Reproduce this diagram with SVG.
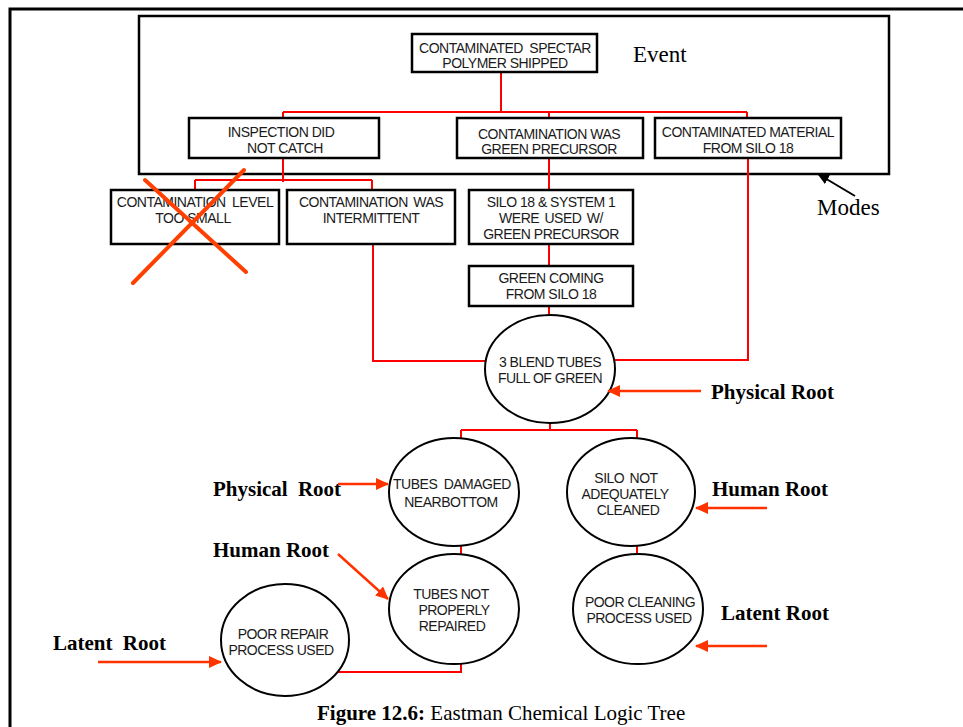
<svg xmlns="http://www.w3.org/2000/svg" width="963" height="727" viewBox="0 0 963 727">
<style>
.box{fill:#fff;stroke:#000;stroke-width:2.5}
.ell{fill:#fff;stroke:#000;stroke-width:2}
.t{font-family:"Liberation Sans",Arial,sans-serif;font-size:14px;letter-spacing:-0.5px;text-anchor:middle;fill:#1a1a1a}
.root{font-family:"Liberation Serif","Times New Roman",serif;font-weight:bold;font-size:21px;fill:#000}
.lbl{font-family:"Liberation Serif","Times New Roman",serif;font-size:23px;fill:#000}
.conn{fill:none;stroke:#ff0000;stroke-width:2}
.rarr{fill:none;stroke:#ff3300;stroke-width:2.5;marker-end:url(#ah)}
</style>
<defs>
<marker id="ah" markerUnits="userSpaceOnUse" markerWidth="13" markerHeight="12" refX="12" refY="6" orient="auto"><path d="M0,0 L13,6 L0,12 z" fill="#ff3300"/></marker>
<marker id="bh" markerUnits="userSpaceOnUse" markerWidth="12" markerHeight="10" refX="11" refY="5" orient="auto"><path d="M0,0 L12,5 L0,10 z" fill="#000"/></marker>
</defs>
<rect width="963" height="727" fill="#fff"/>
<path d="M10,727 V9 H963" fill="none" stroke="#000" stroke-width="3"/>
<rect x="139" y="16" width="750" height="158" fill="none" stroke="#000" stroke-width="2.5"/>
<text class="lbl" x="633" y="62">Event</text>
<text class="lbl" x="817" y="215">Modes</text>
<path d="M855,196 L818,174" stroke="#000" stroke-width="2" marker-end="url(#bh)"/>

<g id="connectors">
<path class="conn" d="M501,72 V112 M283,112 H747 M283,112 V118 M549,112 V118 M747,112 V118"/>
<path class="conn" d="M283,158 V182 M195,180 H372 M195,180 V190 M372,180 V190"/>
<path class="conn" d="M549,158 V190 M549,244 V266 M549,306 V316"/>
<path class="conn" d="M373,244 V361 H485"/>
<path class="conn" d="M748,158 V360 H614"/>
<path class="conn" d="M550,423 V430 M461,430 H637 M461,430 V438 M637,430 V438"/>
<path class="conn" d="M461,546 V554 M637,546 V554"/>
<path class="conn" d="M461,664 V672 H338"/>
</g>

<g id="n-shipped"><rect class="box" x="412" y="34" width="185" height="38"/>
<text class="t" x="505" y="52.5" word-spacing="3">CONTAMINATED SPECTAR</text><text class="t" x="505" y="68">POLYMER SHIPPED</text></g>
<g id="n-inspection"><rect class="box" x="189" y="118" width="190" height="40"/>
<text class="t" x="281" y="136.5">INSPECTION DID</text><text class="t" x="285" y="152.5">NOT CATCH</text></g>
<g id="n-green"><rect class="box" x="457" y="118" width="186" height="40"/>
<text class="t" x="549" y="139" font-size="13.5" letter-spacing="-0.3">CONTAMINATION WAS</text><text class="t" x="549" y="153.5" font-size="13.5" letter-spacing="-0.3">GREEN PRECURSOR</text></g>
<g id="n-silo"><rect class="box" x="655" y="118" width="186" height="40"/>
<text class="t" x="748" y="136.5">CONTAMINATED MATERIAL</text><text class="t" x="748" y="152.5">FROM SILO 18</text></g>

<g id="n-level"><rect class="box" x="111" y="190" width="168" height="54"/>
<text class="t" x="195" y="206.5" word-spacing="3">CONTAMINATION LEVEL</text><text class="t" x="193" y="222.5">TOO SMALL</text></g>
<g id="n-intermittent"><rect class="box" x="287" y="190" width="168" height="54"/>
<text class="t" x="371" y="206.5" word-spacing="2">CONTAMINATION WAS</text><text class="t" x="371" y="222.5">INTERMITTENT</text></g>
<g id="n-system"><rect class="box" x="469" y="190" width="164" height="54"/>
<text class="t" x="551" y="206.5">SILO 18 &amp; SYSTEM 1</text><text class="t" x="551" y="222.5" word-spacing="2">WERE USED W/</text><text class="t" x="551" y="238.5">GREEN PRECURSOR</text></g>
<g id="n-coming"><rect class="box" x="469" y="266" width="164" height="40"/>
<text class="t" x="551" y="282.5">GREEN COMING</text><text class="t" x="551" y="298.5">FROM SILO 18</text></g>

<g id="n-blend"><ellipse class="ell" cx="550" cy="369" rx="65" ry="54"/>
<text class="t" x="550" y="366.5">3 BLEND TUBES</text><text class="t" x="550" y="382.5">FULL OF GREEN</text></g>
<g id="n-damaged"><ellipse class="ell" cx="454" cy="492" rx="65" ry="54"/>
<text class="t" x="452" y="488.5" word-spacing="3">TUBES DAMAGED</text><text class="t" x="451" y="506.5">NEARBOTTOM</text></g>
<g id="n-notclean"><ellipse class="ell" cx="631" cy="492" rx="64" ry="54"/>
<text class="t" x="626" y="482.5" word-spacing="2">SILO NOT</text><text class="t" x="625" y="498.5">ADEQUATELY</text><text class="t" x="628" y="514.5">CLEANED</text></g>
<g id="n-notrepaired"><ellipse class="ell" cx="454" cy="609" rx="65" ry="55"/>
<text class="t" x="451" y="598.5">TUBES NOT</text><text class="t" x="454" y="614.5">PROPERLY</text><text class="t" x="452" y="630.5">REPAIRED</text></g>
<g id="n-poorclean"><ellipse class="ell" cx="638" cy="609" rx="65" ry="55"/>
<text class="t" x="640" y="606.5">POOR CLEANING</text><text class="t" x="639" y="622.5">PROCESS USED</text></g>
<g id="n-poorrepair"><ellipse class="ell" cx="285" cy="640" rx="64" ry="56"/>
<text class="t" x="283" y="638.5">POOR REPAIR</text><text class="t" x="281" y="654.5">PROCESS USED</text></g>

<g id="crossout"><path d="M133,283 L244,170 M145,180 L246,272" stroke="#ff4000" stroke-width="4" stroke-linecap="round"/></g>

<g id="root-labels">
<text class="root" x="711" y="399">Physical Root</text>
<path class="rarr" d="M701,391 H608"/>
<text class="root" x="213" y="496" word-spacing="5">Physical Root</text>
<path class="rarr" d="M338,484 H388"/>
<text class="root" x="712" y="496">Human Root</text>
<path class="rarr" d="M767,508 H696"/>
<text class="root" x="213" y="557">Human Root</text>
<path class="rarr" d="M338,554 L388,599"/>
<text class="root" x="721" y="620">Latent Root</text>
<path class="rarr" d="M767,646 H696"/>
<text class="root" x="53" y="650" word-spacing="5">Latent Root</text>
<path class="rarr" d="M98,662 H221"/>
</g>

<text x="317" y="720" font-family="Liberation Serif,'Times New Roman',serif" font-size="21px" fill="#000"><tspan font-weight="bold">Figure 12.6:</tspan> Eastman Chemical Logic Tree</text>
</svg>
